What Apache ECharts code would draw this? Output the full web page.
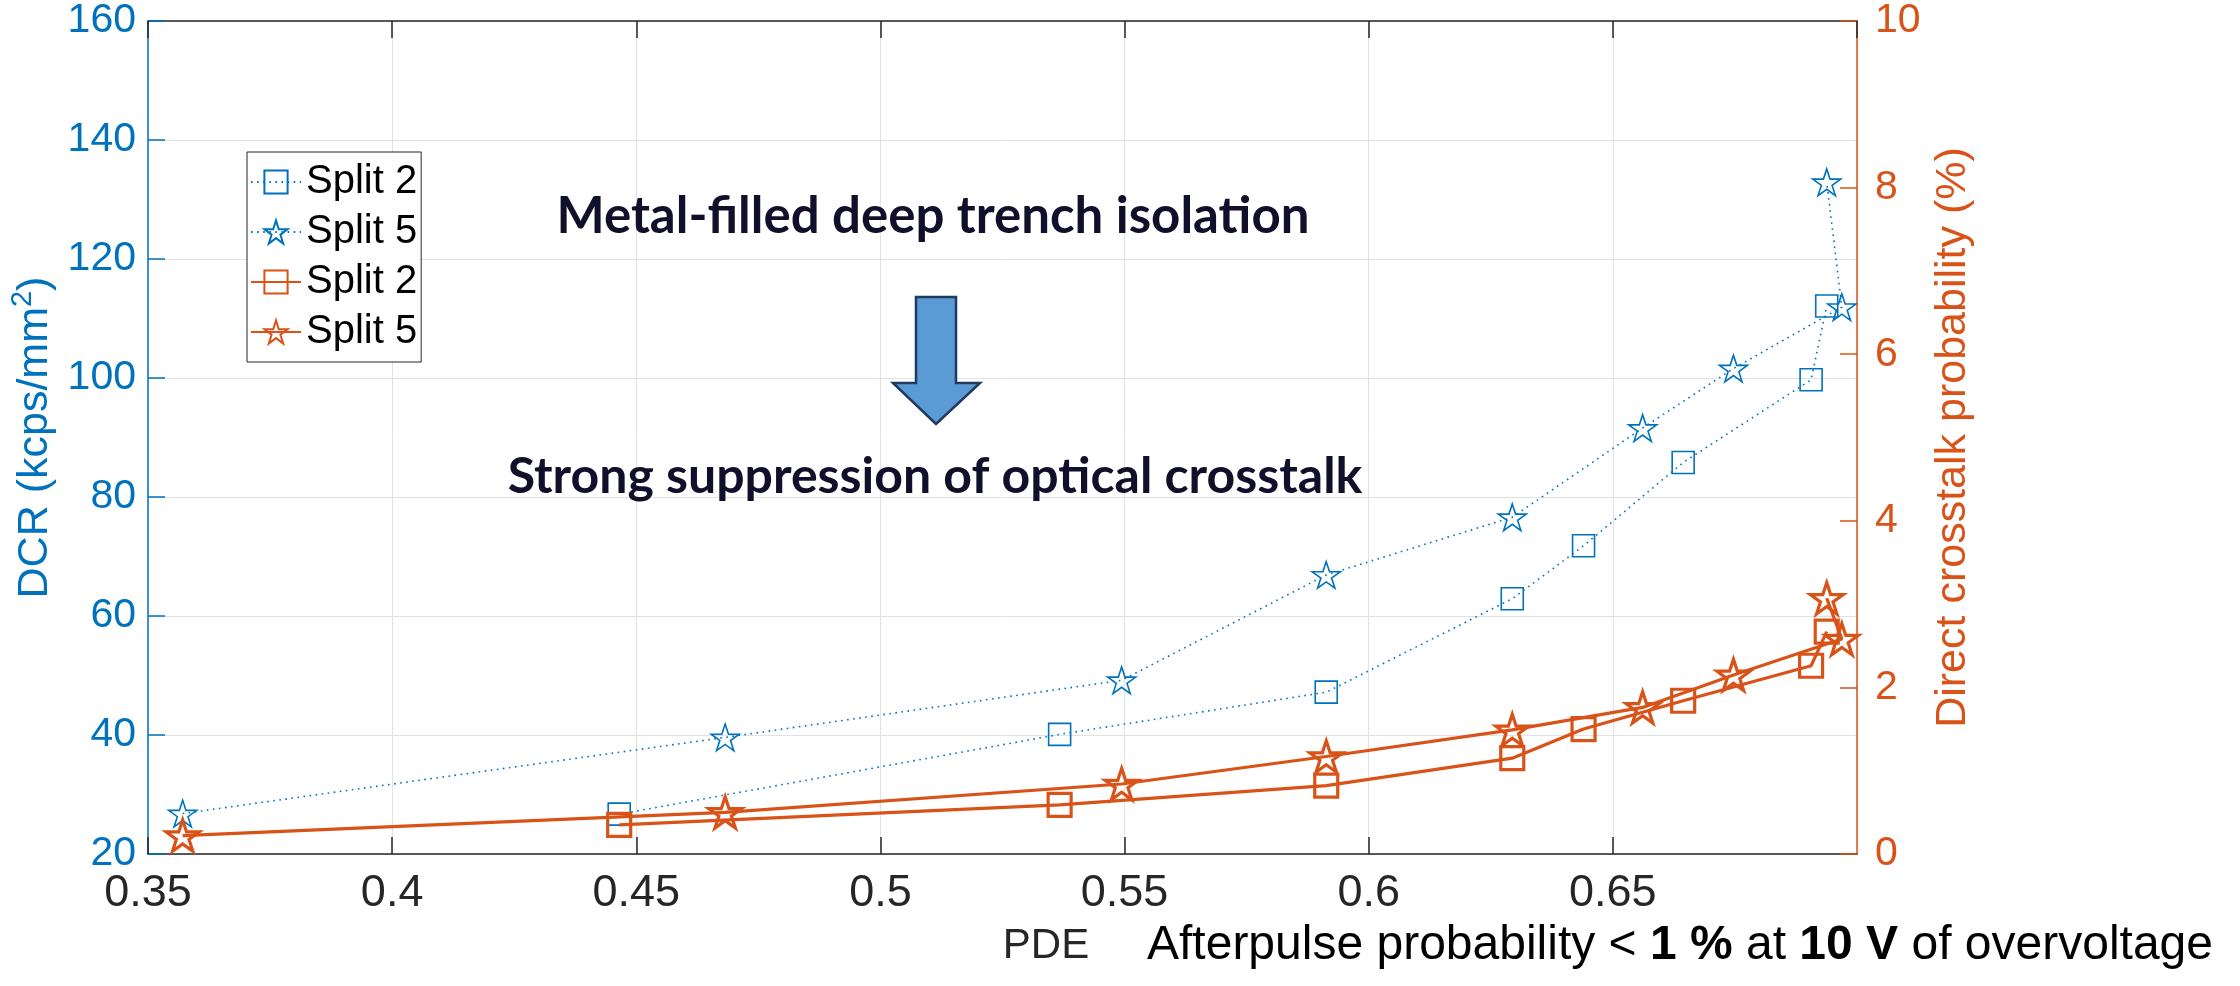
<!DOCTYPE html>
<html>
<head>
<meta charset="utf-8">
<script src="https://cdn.jsdelivr.net/npm/echarts@6/dist/echarts.min.js"></script>
<style>
  html, body { margin: 0; padding: 0; background: #ffffff; }
  #chart { width: 2240px; height: 986px; }
</style>
</head>
<body>
<div id="chart"></div>
<script>
// PDE (x) with dark count rate (left axis) and direct crosstalk (right axis)
const pdeSplit2 = [0.4465, 0.5367, 0.5913, 0.6294, 0.6440, 0.6644, 0.6906, 0.6938];
const dcrSplit2 = [26.7, 40.1, 47.2, 62.9, 71.8, 85.8, 99.7, 112.1];
const ctSplit2  = [0.35, 0.59, 0.82, 1.15, 1.50, 1.84, 2.26, 2.67];

const pdeSplit5 = [0.3571, 0.4682, 0.5494, 0.5913, 0.6294, 0.6561, 0.6747, 0.6969, 0.6938];
const dcrSplit5 = [26.8, 39.6, 49.2, 66.9, 76.6, 91.6, 101.6, 111.9, 132.9];
const ctSplit5  = [0.22, 0.50, 0.84, 1.17, 1.49, 1.76, 2.15, 2.58, 3.07];

// legend entries (trailing space keeps the two groups apart; trimmed when drawn)
const seriesNames = ['Split 2', 'Split 5', 'Split 2 ', 'Split 5 '];

const BLUE = '#0072BD';
const ORANGE = '#D95319';
const AXIS_DARK = '#262626';
const GRID_GRAY = '#e2e2e2';
const FONT = "'Liberation Sans', Arial, Helvetica, sans-serif";
const NOTE_FONT = "Lato, 'Open Sans', sans-serif";

// five-point star outline
const STAR = 'path://M50 0 L61.23 34.55 L97.55 34.55 L68.17 55.9 L79.39 90.45 L50 69.1 L20.61 90.45 L31.83 55.9 L2.45 34.55 L38.77 34.55 Z';

const pairs = (xs, ys) => xs.map((x, i) => [x, ys[i]]);

const chart = echarts.init(document.getElementById('chart'), null, { renderer: 'canvas' });

const option = {
  animation: false,
  backgroundColor: '#ffffff',
  grid: { left: 148, right: 383, top: 21, bottom: 132, containLabel: false },
  legend: {
    orient: 'vertical',
    left: 247,
    top: 152,
    data: seriesNames,
    formatter: n => n.trim(),
    selectedMode: false,
    itemWidth: 50,
    itemHeight: 29,
    itemGap: 10,
    padding: [10, 4, 10, 3],
    borderColor: AXIS_DARK,
    borderWidth: 1,
    backgroundColor: '#ffffff',
    textStyle: { fontSize: 40, fontFamily: FONT, color: '#000000' }
  },
  xAxis: [
    {
      type: 'value', min: 0.35, max: 0.7, interval: 0.05, position: 'bottom',
      axisLine: { show: true, onZero: false, lineStyle: { color: AXIS_DARK, width: 1.5 } },
      axisTick: { show: true, inside: true, length: 17, lineStyle: { color: AXIS_DARK, width: 1.5 } },
      axisLabel: {
        show: true, fontSize: 45, color: AXIS_DARK, margin: 17, fontFamily: FONT,
        showMaxLabel: false, formatter: v => String(+v.toFixed(2))
      },
      splitLine: { show: true, lineStyle: { color: GRID_GRAY, width: 1 } }
    },
    {
      type: 'value', min: 0.35, max: 0.7, interval: 0.05, position: 'top',
      axisLine: { show: true, onZero: false, lineStyle: { color: AXIS_DARK, width: 1.5 } },
      axisTick: { show: true, inside: true, length: 17, lineStyle: { color: AXIS_DARK, width: 1.5 } },
      axisLabel: { show: false },
      splitLine: { show: false }
    }
  ],
  yAxis: [
    {
      type: 'value', min: 20, max: 160, interval: 20, position: 'left',
      axisLine: { show: true, lineStyle: { color: BLUE, width: 1.5 } },
      axisTick: { show: true, inside: true, length: 17, lineStyle: { color: BLUE, width: 1.5 } },
      axisLabel: { fontSize: 41, color: BLUE, margin: 12, fontFamily: FONT },
      splitLine: { show: true, lineStyle: { color: GRID_GRAY, width: 1 } },
      name: '{a|DCR (kcps/mm}{s|2}{a|)}',
      nameLocation: 'middle',
      nameGap: 86,
      nameTextStyle: {
        color: BLUE, fontSize: 43, fontFamily: FONT,
        rich: {
          a: { color: BLUE, fontSize: 43, fontFamily: FONT, lineHeight: 54 },
          s: { color: BLUE, fontSize: 29, fontFamily: FONT, verticalAlign: 'top', lineHeight: 29 }
        }
      }
    },
    {
      type: 'value', min: 0, max: 10, interval: 2, position: 'right',
      axisLine: { show: true, lineStyle: { color: ORANGE, width: 1.5 } },
      axisTick: { show: true, inside: true, length: 17, lineStyle: { color: ORANGE, width: 1.5 } },
      axisLabel: { fontSize: 41, color: ORANGE, margin: 18, fontFamily: FONT },
      splitLine: { show: false },
      name: 'Direct crosstalk probability (%)',
      nameLocation: 'middle',
      nameGap: 74,
      nameTextStyle: { color: ORANGE, fontSize: 43, fontFamily: FONT }
    }
  ],
  series: [
    {
      name: seriesNames[0], type: 'line', xAxisIndex: 0, yAxisIndex: 0,
      data: pairs(pdeSplit2, dcrSplit2),
      symbol: 'rect', symbolSize: 22,
      lineStyle: { color: BLUE, width: 1.6, type: [1.6, 4.5] },
      itemStyle: { color: 'rgba(255,255,255,0)', borderColor: BLUE, borderWidth: 1.6 },
      emphasis: { disabled: true }, z: 2
    },
    {
      name: seriesNames[1], type: 'line', xAxisIndex: 0, yAxisIndex: 0,
      data: pairs(pdeSplit5, dcrSplit5),
      symbol: STAR, symbolSize: 28, symbolKeepAspect: true,
      lineStyle: { color: BLUE, width: 1.6, type: [1.6, 4.5] },
      itemStyle: { color: 'rgba(255,255,255,0)', borderColor: BLUE, borderWidth: 1.6 },
      emphasis: { disabled: true }, z: 2
    },
    {
      name: seriesNames[2], type: 'line', xAxisIndex: 0, yAxisIndex: 1,
      data: pairs(pdeSplit2, ctSplit2),
      symbol: 'rect', symbolSize: 23,
      lineStyle: { color: ORANGE, width: 3.2, type: 'solid' },
      itemStyle: { color: 'rgba(255,255,255,0)', borderColor: ORANGE, borderWidth: 3.2 },
      emphasis: { disabled: true }, z: 3
    },
    {
      name: seriesNames[3], type: 'line', xAxisIndex: 0, yAxisIndex: 1,
      data: pairs(pdeSplit5, ctSplit5),
      symbol: STAR, symbolSize: 33, symbolKeepAspect: true,
      lineStyle: { color: ORANGE, width: 3.2, type: 'solid' },
      itemStyle: { color: 'rgba(255,255,255,0)', borderColor: ORANGE, borderWidth: 3.2 },
      emphasis: { disabled: true }, z: 3
    }
  ],
  graphic: [
    {
      type: 'text', z: 10,
      style: {
        text: 'Metal-filled deep trench isolation',
        x: 933, y: 217, align: 'center', verticalAlign: 'middle',
        fontSize: 51, fontWeight: 'bold', fontFamily: NOTE_FONT, fill: '#10102a'
      }
    },
    {
      type: 'polygon', z: 10,
      shape: { points: [[916, 297], [956, 297], [956, 383], [980, 383], [936, 424], [893, 383], [916, 383]] },
      style: { fill: '#5B9BD5', stroke: '#1f3a5f', lineWidth: 2.5 }
    },
    {
      type: 'text', z: 10,
      style: {
        text: 'Strong suppression of optical crosstalk',
        x: 935, y: 477, align: 'center', verticalAlign: 'middle',
        fontSize: 50, fontWeight: 'bold', fontFamily: NOTE_FONT, fill: '#10102a'
      }
    },
    {
      type: 'text', z: 10,
      style: {
        text: 'PDE',
        x: 1046, y: 946, align: 'center', verticalAlign: 'middle',
        fontSize: 42, fontFamily: FONT, fill: AXIS_DARK
      }
    },
    {
      type: 'text', z: 10,
      style: {
        text: '{n|Afterpulse probability < }{b|1 %}{n| at }{b|10 V}{n| of overvoltage}',
        x: 1147, y: 946, align: 'left', verticalAlign: 'middle',
        rich: {
          n: { fontSize: 48, fontFamily: FONT, fill: '#000000' },
          b: { fontSize: 48, fontFamily: FONT, fontWeight: 'bold', fill: '#000000' }
        }
      }
    }
  ]
};

chart.setOption(option);
</script>
</body>
</html>
